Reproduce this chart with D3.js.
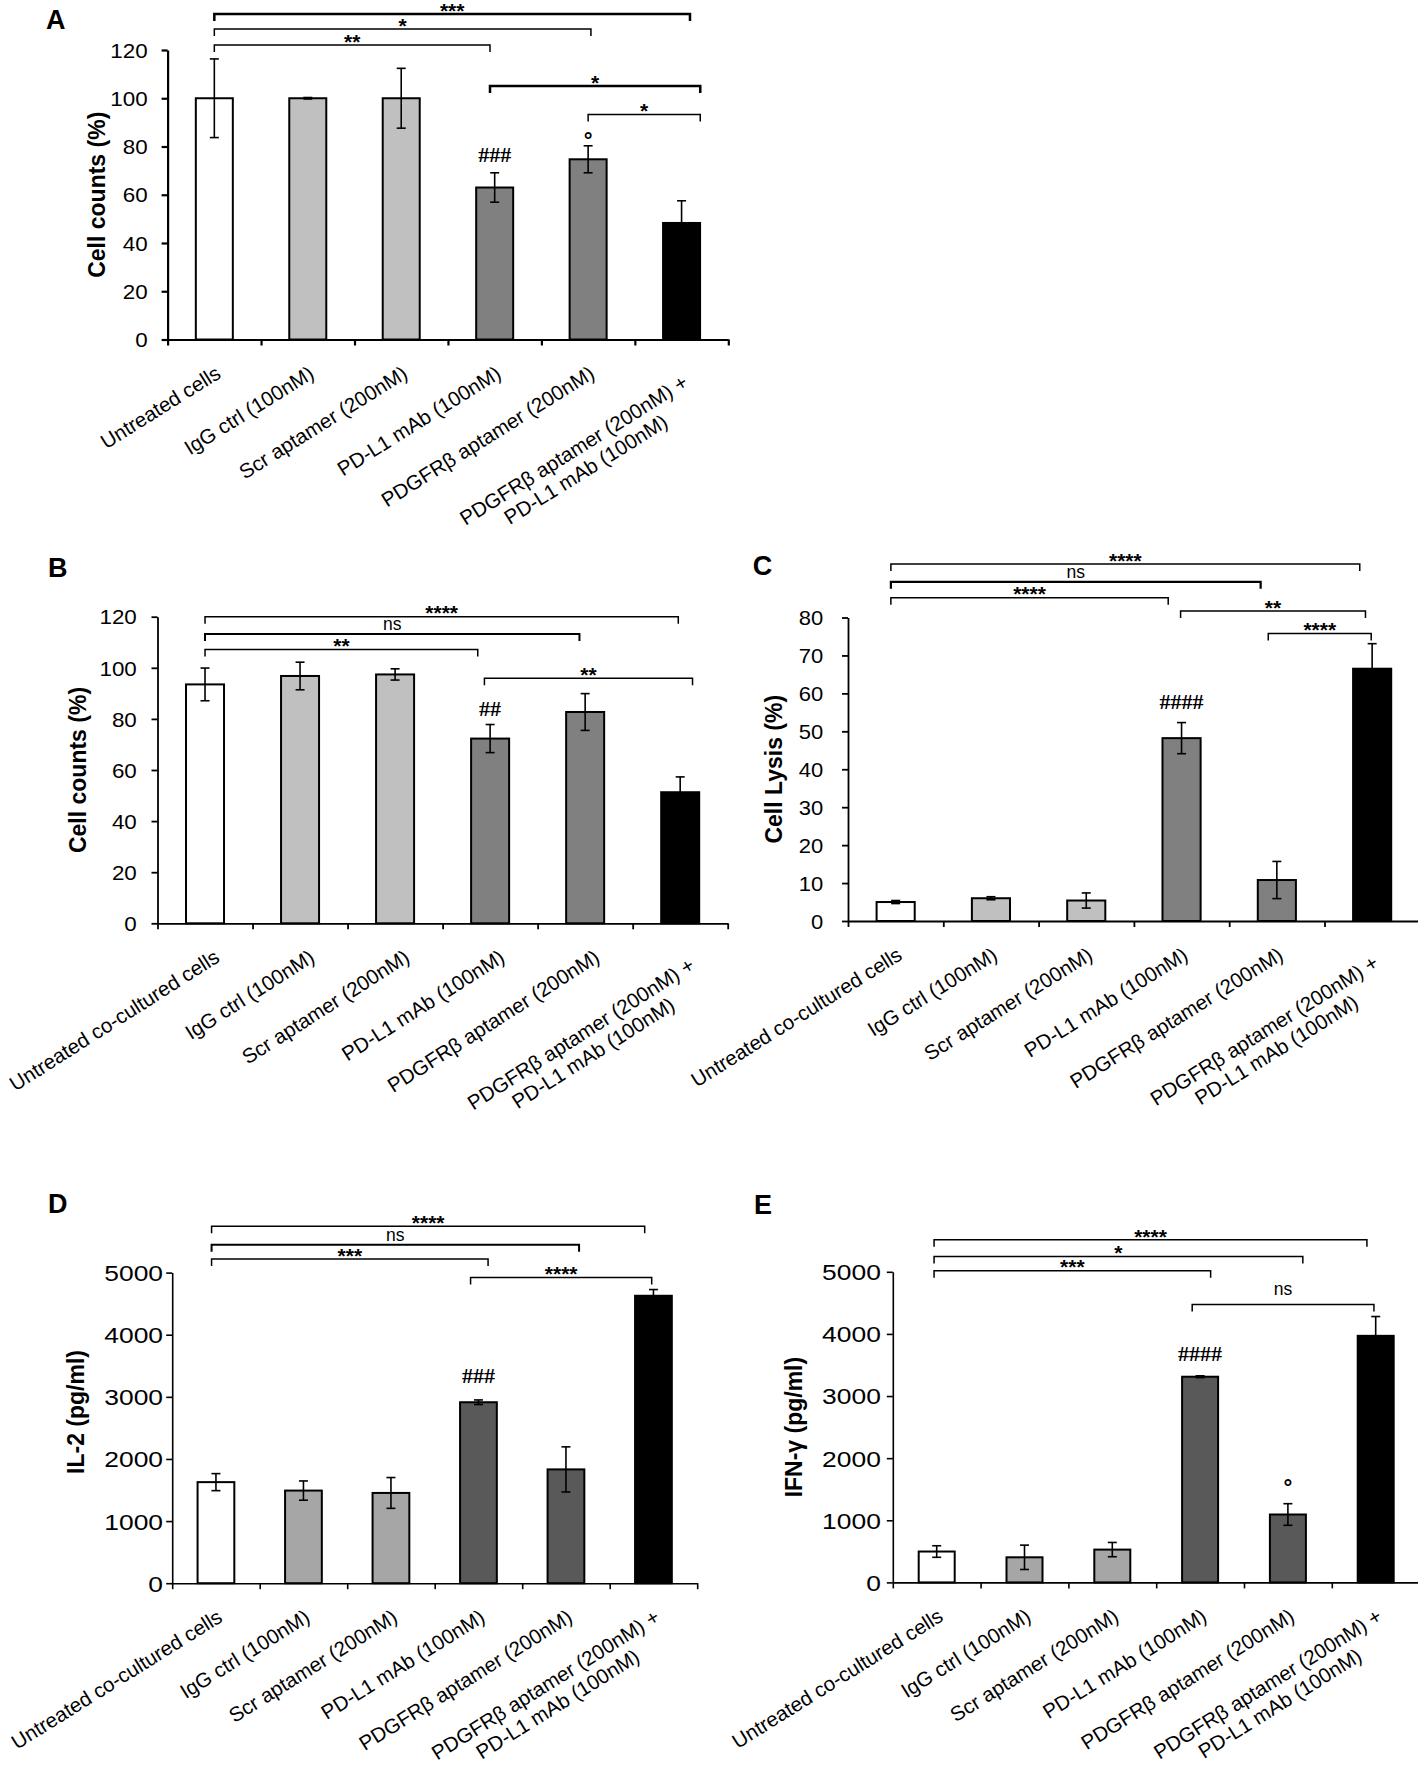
<!DOCTYPE html>
<html><head><meta charset="utf-8">
<script src="https://cdn.jsdelivr.net/npm/d3@7"></script>
<style>body{margin:0;background:#fff} svg{display:block;background:#fff}</style>
</head><body><svg id="fig" width="1418" height="1785"></svg>
<script>
// ---------------- data ----------------
const catsA = ["Untreated cells","IgG ctrl (100nM)","Scr aptamer (200nM)","PD-L1 mAb (100nM)","PDGFRβ aptamer (200nM)","PDGFRβ aptamer (200nM) +\nPD-L1 mAb (100nM)"];
const catsCo = ["Untreated co-cultured cells","IgG ctrl (100nM)","Scr aptamer (200nM)","PD-L1 mAb (100nM)","PDGFRβ aptamer (200nM)","PDGFRβ aptamer (200nM) +\nPD-L1 mAb (100nM)"];

const countA    = [100, 100, 100, 63.0, 74.7, 48.3];
const countAErr = [16.3, 0.3, 12.4, 6.1, 5.6, 9.2];
const countB    = [93.5, 96.8, 97.4, 72.3, 82.7, 51.3];
const countBErr = [6.4, 5.4, 2.2, 5.5, 7.2, 6.0];
const lysisC    = [5.0, 6.0, 5.4, 48.2, 10.8, 66.5];
const lysisCErr = [0.4, 0.4, 2.0, 4.1, 4.9, 6.6];
const il2D      = [1627, 1491, 1453, 2913, 1832, 4627];
const il2DErr   = [137, 155, 248, 37, 363, 100];
const ifnE      = [497, 404, 528, 3311, 1093, 3969];
const ifnEErr   = [93, 196, 115, 15, 174, 311];

const ticksPct   = [0, 20, 40, 60, 80, 100, 120];
const ticksLysis = [0, 10, 20, 30, 40, 50, 60, 70, 80];
const ticksPg    = [0, 1000, 2000, 3000, 4000, 5000];

// significance brackets: [from category, to category, level (data units), label]
const sigA = [[0, 5.09, 134.9, "***"], [0, 4.03, 128.7, "*"], [0, 2.95, 122.1, "**"], [2.95, 5.2, 105.1, "*"], [4.0, 5.2, 93.3, "*"]];
const sigB = [[0, 4.98, 120.0, "****"], [0, 3.94, 113.2, "ns"], [0, 2.87, 107.2, "**"], [2.94, 5.13, 95.9, "**"]];
const sigC = [[-0.05, 4.87, 94.1, "****"], [-0.05, 3.83, 89.4, "ns"], [-0.05, 2.86, 85.2, "****"], [2.99, 4.93, 81.7, "**"], [3.91, 4.99, 75.8, "****"]];
const sigD = [[-0.05, 4.9, 5745, "****"], [-0.05, 4.15, 5448, "ns"], [-0.05, 3.11, 5219, "***"], [2.91, 4.98, 4920, "****"]];
const sigE = [[-0.03, 4.9, 5515, "****"], [-0.03, 4.17, 5248, "*"], [-0.03, 3.12, 5018, "***"], [2.91, 4.98, 4472, "ns"]];

// marks above bars: [category, text]
const markA = [[3, "###"], [4, "°"]];
const markB = [[3, "##"]];
const markC = [[3, "####"]];
const markD = [[3, "###"]];
const markE = [[3, "####"], [4, "°"]];

const greysLight = ["#ffffff", "#c0c0c0", "#c0c0c0", "#808080", "#808080", "#000000"];
const greysDark  = ["#ffffff", "#a6a6a6", "#a6a6a6", "#595959", "#595959", "#000000"];

// ---------------- drawing ----------------
const SANS = '"Liberation Sans", Arial, Helvetica, sans-serif';
const SERIF = '"Liberation Serif", "Times New Roman", serif';
const svg = d3.select("#fig");
svg.append("rect").attr("width", 1418).attr("height", 1785).attr("fill", "#fff");

function drawPanel(cfg) {
  const n = cfg.cats.length;
  const g = svg.append("g");
  const xb = d3.scaleBand().domain(d3.range(n)).range([cfg.x0, cfg.x1]);
  const xp = d3.scaleLinear().domain([-0.5, n - 0.5]).range([cfg.x0, cfg.x1]);
  const y = d3.scaleLinear().domain([0, cfg.ymax]).range([cfg.yb, cfg.yt]);
  const bw = xb.bandwidth() * cfg.barFrac;

  // bars
  g.selectAll("rect.bar").data(cfg.vals).join("rect").attr("class", "bar")
    .attr("x", (d, i) => xp(i) - bw / 2).attr("y", d => y(d))
    .attr("width", bw).attr("height", d => y(0) - y(d))
    .attr("fill", (d, i) => cfg.colors[i]).attr("stroke", "#000").attr("stroke-width", 2);

  // error bars
  const cap = 4.5;
  cfg.vals.forEach((v, i) => {
    const e = cfg.errs[i], cx = xp(i);
    const eg = g.append("g").attr("stroke", "#000").attr("stroke-width", 1.6);
    eg.append("line").attr("x1", cx).attr("x2", cx).attr("y1", y(v + e)).attr("y2", y(v - e));
    eg.append("line").attr("x1", cx - cap).attr("x2", cx + cap).attr("y1", y(v + e)).attr("y2", y(v + e));
    eg.append("line").attr("x1", cx - cap).attr("x2", cx + cap).attr("y1", y(v - e)).attr("y2", y(v - e));
  });

  // y axis
  const ya = g.append("g").attr("transform", `translate(${cfg.x0},0)`)
    .call(d3.axisLeft(y).tickValues(cfg.ticks).tickSize(6).tickSizeOuter(0).tickFormat(d3.format("d")));
  ya.select(".domain").attr("stroke-width", cfg.axisW);
  ya.selectAll(".tick line").attr("stroke-width", cfg.axisW);
  ya.selectAll(".tick text").attr("font-size", cfg.tickFs).attr("font-family", SANS).attr("fill", "#000")
    .attr("x", -cfg.labelGap / cfg.tickSx).attr("dy", "0.36em")
    .attr("transform", `scale(${cfg.tickSx},1)`);

  // x axis
  const xa = g.append("g").attr("transform", `translate(0,${cfg.yb})`)
    .call(d3.axisBottom(xp).tickValues(d3.range(n + 1).map(i => i - 0.5)).tickSize(6).tickSizeOuter(0).tickFormat(""));
  xa.select(".domain").attr("stroke-width", cfg.axisW);
  xa.selectAll(".tick line").attr("stroke-width", cfg.axisW);

  // category labels
  const fs = 20.5, lh = 23;
  cfg.cats.forEach((c, i) => {
    const lines = c.split("\n");
    const lg = g.append("g")
      .attr("transform", `translate(${xp(i) + cfg.labDx},${cfg.yb + cfg.labDy + (lines.length - 1) * cfg.labDy2}) rotate(${-cfg.angle})`)
      .attr("font-family", SANS).attr("font-size", fs).attr("fill", "#000");
    const t1 = lg.append("text").text(lines[0]).attr("text-anchor", "end").attr("y", fs * 0.72);
    if (lines.length > 1) {
      const L = t1.node().getComputedTextLength();
      lg.append("text").text(lines[1]).attr("text-anchor", "middle").attr("x", -L / 2).attr("y", fs * 0.72 + lh);
    }
  });

  // significance brackets
  cfg.sig.forEach((s, k) => {
    const [a, b, lvl, lab] = s;
    const yy = y(lvl);
    g.append("path").attr("d", `M${xp(a)},${yy + 7}V${yy}H${xp(b)}V${yy + 7}`)
      .attr("fill", "none").attr("stroke", "#000").attr("stroke-width", cfg.sigW[k]);
    const isNs = lab === "ns";
    const c = yy - (cfg.sigDy && cfg.sigDy[k] != null ? cfg.sigDy[k] : 8.5);
    g.append("text").text(lab)
      .attr("x", (xp(a) + xp(b)) / 2)
      .attr("y", isNs ? c + 4.4 : c + 12.2)
      .attr("text-anchor", "middle").attr("font-family", SANS)
      .attr("font-size", isNs ? 17.5 : 21).attr("font-weight", isNs ? "normal" : "bold");
  });

  // marks above bars
  cfg.marks.forEach(([i, txt], k) => {
    const top = y(cfg.vals[i] + cfg.errs[i]);
    const gap = cfg.markGap[k];
    if (txt === "°") {
      g.append("text").text(txt).attr("x", xp(i)).attr("y", top - gap + 11.4)
        .attr("text-anchor", "middle").attr("font-family", SANS).attr("font-weight", "bold").attr("font-size", 22);
    } else {
      g.append("text").text(txt).attr("x", xp(i)).attr("y", top - gap)
        .attr("text-anchor", "middle").attr("font-family", SERIF).attr("font-weight", "bold").attr("font-size", 22);
    }
  });

  // axis title
  g.append("text").text(cfg.title)
    .attr("transform", `translate(${cfg.titleX},${cfg.titleY != null ? cfg.titleY : (cfg.yb + cfg.yt) / 2}) rotate(-90)`)
    .attr("text-anchor", "middle").attr("dy", "0.35em")
    .attr("font-family", SANS).attr("font-weight", "bold").attr("font-size", 23);

  // panel letter
  g.append("text").text(cfg.letter).attr("x", cfg.letterX).attr("y", cfg.letterY)
    .attr("font-family", SANS).attr("font-weight", "bold").attr("font-size", 27);
}

drawPanel({cats: catsA, vals: countA, errs: countAErr, colors: greysLight, ticks: ticksPct, ymax: 120,
  x0: 167.6, x1: 728.3, yb: 339.5, yt: 50, barFrac: 0.396, axisW: 2.2, tickFs: 20, tickSx: 1.12, labelGap: 20,
  angle: 32, labDx: 0, labDy: 25, labDy2: 9,
  sig: sigA, sigW: [2.5, 1.5, 1.5, 2.5, 1.5], marks: markA, markGap: [11, 9.4],
  title: "Cell counts (%)", titleX: 96.5, letter: "A", letterX: 46, letterY: 28.5});

drawPanel({cats: catsCo, vals: countB, errs: countBErr, colors: greysLight, ticks: ticksPct, ymax: 120,
  x0: 157.5, x1: 727.7, yb: 923.3, yt: 616.7, barFrac: 0.4, axisW: 1.8, tickFs: 20, tickSx: 1.12, labelGap: 20.7,
  angle: 32.5, labDx: 8, labDy: 25, labDy2: 8,
  sig: sigB, sigW: [1.5, 2, 1.5, 1.5], marks: markB, markGap: [8.8],
  title: "Cell counts (%)", titleX: 78, letter: "B", letterX: 48, letterY: 576.7});

drawPanel({cats: catsCo, vals: lysisC, errs: lysisCErr, colors: greysLight, ticks: ticksLysis, ymax: 80,
  x0: 848, x1: 1419.8, yb: 921, yt: 617.5, barFrac: 0.4, axisW: 1.8, tickFs: 20, tickSx: 1.1, labelGap: 24.7,
  angle: 32, labDx: 0, labDy: 25, labDy2: 8,
  sig: sigC, sigW: [1.5, 2.2, 1.5, 1.5, 1.5], marks: markC, markGap: [13.6],
  title: "Cell Lysis (%)", titleX: 773.5, letter: "C", letterX: 752.8, letterY: 575});

drawPanel({cats: catsCo, vals: il2D, errs: il2DErr, colors: greysDark, ticks: ticksPg, ymax: 5000,
  x0: 172.2, x1: 697.2, yb: 1583.2, yt: 1272.6, barFrac: 0.42, axisW: 1.6, tickFs: 22, tickSx: 1.2, labelGap: 9.2,
  angle: 32, labDx: 0, labDy: 25, labDy2: 0,
  sig: sigD, sigW: [1.5, 2, 1.5, 1.5], marks: markD, markGap: [17],
  title: "IL-2 (pg/ml)", titleX: 76, titleY: 1412, letter: "D", letterX: 48, letterY: 1212.8});

drawPanel({cats: catsCo, vals: ifnE, errs: ifnEErr, colors: greysDark, ticks: ticksPg, ymax: 5000,
  x0: 892.8, x1: 1419.6, yb: 1582.4, yt: 1271.8, barFrac: 0.41, axisW: 1.6, tickFs: 22, tickSx: 1.2, labelGap: 12,
  angle: 32, labDx: 0, labDy: 25, labDy2: 0,
  sig: sigE, sigW: [1.5, 1.5, 1.5, 1.5], sigDy: [null, null, null, 13.6], marks: markE, markGap: [15, 20],
  title: "IFN-γ (pg/ml)", titleX: 794, letter: "E", letterX: 754, letterY: 1214});
</script>
</body></html>
